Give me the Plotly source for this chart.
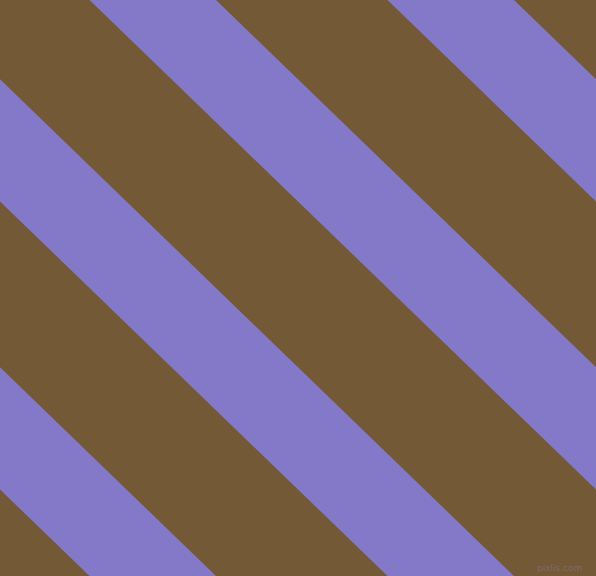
import plotly.graph_objects as go

# canvas size in px (also the data units)
W, H = 596, 576

BROWN = '#735935'
PURPLE = '#8379c8'

# left edge of each purple band where it meets the top edge (px)
stripe_starts = [-506.5, -208.5, 89.5, 387.5]
stripe_width = 126.5
# the bands run parallel to the canvas diagonal
run_per_rise = W / H

fig = go.Figure()
for x0 in stripe_starts:
    x1 = x0 + stripe_width
    y_top, y_bot = -20, H + 20
    xs = [x0 + run_per_rise * y_top, x1 + run_per_rise * y_top,
          x1 + run_per_rise * y_bot, x0 + run_per_rise * y_bot]
    ys = [y_top, y_top, y_bot, y_bot]
    fig.add_trace(go.Scatter(
        x=xs, y=ys,
        fill='toself', fillcolor=PURPLE,
        mode='lines', line=dict(width=0, color=PURPLE),
        hoverinfo='skip', showlegend=False,
    ))

fig.add_annotation(
    x=584, y=568, xref='x', yref='y',
    text='pixlis.com', showarrow=False,
    xanchor='right', yanchor='middle',
    font=dict(family='DejaVu Sans', size=9, color='rgba(140,120,170,0.55)'),
)

fig.update_layout(
    width=W, height=H, autosize=False,
    margin=dict(l=0, r=0, t=0, b=0, pad=0),
    paper_bgcolor=BROWN,
    plot_bgcolor=BROWN,
    xaxis=dict(range=[0, W], visible=False, fixedrange=True),
    yaxis=dict(range=[H, 0], visible=False, fixedrange=True),
)

fig.write_html("out.html", config={'displayModeBar': False},
               post_script="document.body.style.margin='0';")
